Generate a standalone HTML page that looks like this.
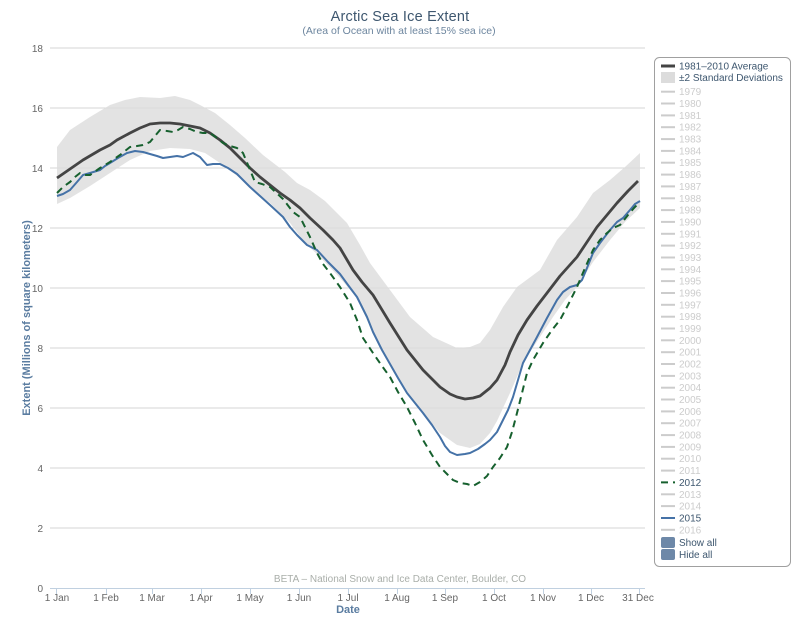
<!DOCTYPE html>
<html><head><meta charset="utf-8">
<style>
html,body{margin:0;padding:0;background:#fff;}
svg{display:block;font-family:"Liberation Sans",Arial,sans-serif;}
</style></head>
<body>
<svg width="800" height="630" viewBox="0 0 800 630" xmlns="http://www.w3.org/2000/svg">
<rect width="800" height="630" fill="#fff"/>
<!-- title -->
<text x="400" y="21" text-anchor="middle" font-size="14.5" letter-spacing="0.2" fill="#3E576F">Arctic Sea Ice Extent</text>
<text x="399" y="34" text-anchor="middle" font-size="10.5" fill="#6D869F">(Area of Ocean with at least 15% sea ice)</text>

<!-- gridlines -->
<g stroke="#d6d6d6" stroke-width="1">
<line x1="50" y1="48" x2="645" y2="48"/>
<line x1="50" y1="108" x2="645" y2="108"/>
<line x1="50" y1="168" x2="645" y2="168"/>
<line x1="50" y1="228" x2="645" y2="228"/>
<line x1="50" y1="288" x2="645" y2="288"/>
<line x1="50" y1="348" x2="645" y2="348"/>
<line x1="50" y1="408" x2="645" y2="408"/>
<line x1="50" y1="468" x2="645" y2="468"/>
<line x1="50" y1="528" x2="645" y2="528"/>
</g>

<!-- y labels -->
<g font-size="10" fill="#666" text-anchor="end">
<text x="43" y="52">18</text>
<text x="43" y="112">16</text>
<text x="43" y="172">14</text>
<text x="43" y="232">12</text>
<text x="43" y="292">10</text>
<text x="43" y="352">8</text>
<text x="43" y="412">6</text>
<text x="43" y="472">4</text>
<text x="43" y="532">2</text>
<text x="43" y="592">0</text>
</g>
<text transform="translate(30,318) rotate(-90)" text-anchor="middle" font-size="11" font-weight="bold" fill="#5a7ca0">Extent (Millions of square kilometers)</text>

<!-- band -->
<polygon fill="#dcdcdc" fill-opacity="0.8" points="
57,147 70,130 90,117 110,105 125,100 140,97 160,98 175,96 190,100 200,105 215,113 230,125 245,138 263,155 285,172 297,183 310,190 325,201 337,213 347,223 360,245 370,263 390,290 410,317 433,337 457,348 470,347 480,343 490,330 503,307 517,287 540,270 557,240 577,217 593,193 610,180 625,167 640,153
640,208 625,222 610,240 593,262 577,287 565,300 553,317 538,340 523,363 510,393 497,421 490,433 480,444 470,448 457,445 440,433 420,410 407,394 390,365 373,333 357,298 340,278 320,257 305,243 290,223 270,203 257,193 240,178 220,163 205,153 190,149 170,148 150,151 130,160 110,173 90,186 70,198 57,204"/>

<!-- axis line and ticks -->
<line x1="50" y1="588.5" x2="645" y2="588.5" stroke="#C0D0E0" stroke-width="1"/>
<g stroke="#C0D0E0" stroke-width="1">
<line x1="56.5" y1="588" x2="56.5" y2="594"/>
<line x1="106.5" y1="588" x2="106.5" y2="594"/>
<line x1="152.5" y1="588" x2="152.5" y2="594"/>
<line x1="201.5" y1="588" x2="201.5" y2="594"/>
<line x1="250.5" y1="588" x2="250.5" y2="594"/>
<line x1="299.5" y1="588" x2="299.5" y2="594"/>
<line x1="348.5" y1="588" x2="348.5" y2="594"/>
<line x1="397.5" y1="588" x2="397.5" y2="594"/>
<line x1="445.5" y1="588" x2="445.5" y2="594"/>
<line x1="494.5" y1="588" x2="494.5" y2="594"/>
<line x1="543.5" y1="588" x2="543.5" y2="594"/>
<line x1="591.5" y1="588" x2="591.5" y2="594"/>
<line x1="639.5" y1="588" x2="639.5" y2="594"/>
</g>
<g font-size="10" fill="#666" text-anchor="middle">
<text x="57" y="601">1 Jan</text>
<text x="106" y="601">1 Feb</text>
<text x="152" y="601">1 Mar</text>
<text x="201" y="601">1 Apr</text>
<text x="250" y="601">1 May</text>
<text x="299" y="601">1 Jun</text>
<text x="348" y="601">1 Jul</text>
<text x="397" y="601">1 Aug</text>
<text x="445" y="601">1 Sep</text>
<text x="494" y="601">1 Oct</text>
<text x="543" y="601">1 Nov</text>
<text x="591" y="601">1 Dec</text>
<text x="638" y="601">31 Dec</text>
</g>
<text x="348" y="613" text-anchor="middle" font-size="11" font-weight="bold" fill="#5a7ca0">Date</text>
<text x="400" y="582" text-anchor="middle" font-size="10" fill="#a9aea9">BETA – National Snow and Ice Data Center, Boulder, CO</text>

<!-- average -->
<polyline fill="none" stroke="#444" stroke-width="2.8" stroke-linejoin="round" points="57,178 70,169 83,160 100,150 110,145 117,140 130,133 140,128 150,124 160,123 170,123 180,124 190,126 200,128 210,133 220,140 230,148 240,158 250,168 260,177 270,185 280,193 290,200 300,208 310,218 323,230 333,240 340,248 353,270 362,282 373,295 390,323 407,350 423,370 440,387 450,394 457,397 465,399 473,398 480,396 490,388 497,380 505,365 510,352 518,335 527,320 537,306 547,293 560,276 577,257 587,242 597,227 607,215 617,203 628,191 638,181"/>

<!-- 2015 -->
<polyline fill="none" stroke="#4572A7" stroke-width="2" stroke-linejoin="round" points="57,196 63,194 70,190 77,182 83,175 90,173 100,170 105,166 110,163 118,158 127,153 135,151 143,152 150,154 157,156 163,158 170,157 177,156 183,157 188,155 193,153 200,157 207,165 213,164 220,164 228,168 237,174 250,187 260,196 270,205 283,217 290,227 297,235 307,245 317,250 328,262 340,274 348,285 357,297 367,317 373,332 382,350 390,364 398,378 407,393 415,403 423,413 432,425 440,437 445,446 450,452 457,455 465,454 470,453 478,449 485,444 490,440 497,432 503,420 508,410 513,397 518,380 523,363 530,350 537,337 547,318 557,300 563,292 570,287 577,285 582,280 587,268 593,253 600,243 610,230 617,222 623,218 630,210 635,204 640,201"/>

<!-- 2012 -->
<polyline fill="none" stroke="#16602e" stroke-width="2" stroke-dasharray="7,5" stroke-linejoin="round" points="57,193 63,187 70,182 75,177 80,173 85,175 90,175 100,168 110,162 120,155 130,147 137,146 143,145 150,142 155,136 160,130 167,131 173,132 178,130 183,127 190,129 197,132 203,133 210,133 217,138 223,143 230,146 237,148 243,153 248,165 255,182 262,184 270,187 283,199 293,212 300,217 310,237 317,253 323,264 330,273 340,287 350,303 357,320 363,338 373,353 382,366 390,377 398,392 407,407 415,423 423,440 432,455 440,467 447,474 453,480 460,483 467,484 473,486 480,482 487,476 493,467 500,458 507,447 512,432 517,413 522,393 527,373 533,360 543,343 552,330 560,320 568,305 577,287 585,268 593,250 600,240 607,233 613,228 620,225 628,215 634,208 640,202"/>

<!-- legend -->
<rect x="654.5" y="57.5" width="136" height="509" rx="5" ry="5" fill="#fff" stroke="#a0a0a0" stroke-width="1"/>
<line x1="661" y1="66" x2="675" y2="66" stroke="#444" stroke-width="3"/>
<text x="679" y="69.5" font-size="10" fill="#3E576F">1981–2010 Average</text>
<rect x="661" y="72" width="14" height="11" fill="#dcdcdc"/>
<text x="679" y="81" font-size="10" fill="#3E576F">±2 Standard Deviations</text>
<g font-size="10" fill="#cccccc">
<text x="679" y="95.2">1979</text>
<text x="679" y="107">1980</text>
<text x="679" y="118.9">1981</text>
<text x="679" y="130.7">1982</text>
<text x="679" y="142.6">1983</text>
<text x="679" y="154.4">1984</text>
<text x="679" y="166.2">1985</text>
<text x="679" y="178.1">1986</text>
<text x="679" y="189.9">1987</text>
<text x="679" y="201.8">1988</text>
<text x="679" y="213.6">1989</text>
<text x="679" y="225.4">1990</text>
<text x="679" y="237.3">1991</text>
<text x="679" y="249.1">1992</text>
<text x="679" y="261">1993</text>
<text x="679" y="272.8">1994</text>
<text x="679" y="284.6">1995</text>
<text x="679" y="296.5">1996</text>
<text x="679" y="308.3">1997</text>
<text x="679" y="320.2">1998</text>
<text x="679" y="332">1999</text>
<text x="679" y="343.8">2000</text>
<text x="679" y="355.7">2001</text>
<text x="679" y="367.5">2002</text>
<text x="679" y="379.4">2003</text>
<text x="679" y="391.2">2004</text>
<text x="679" y="403">2005</text>
<text x="679" y="414.9">2006</text>
<text x="679" y="426.7">2007</text>
<text x="679" y="438.6">2008</text>
<text x="679" y="450.4">2009</text>
<text x="679" y="462.2">2010</text>
<text x="679" y="474.1">2011</text>
<text x="679" y="497.8">2013</text>
<text x="679" y="509.6">2014</text>
<text x="679" y="533.3">2016</text>
</g>
<g stroke="#cccccc" stroke-width="2">
<line x1="661" y1="91.7" x2="675" y2="91.7"/>
<line x1="661" y1="103.5" x2="675" y2="103.5"/>
<line x1="661" y1="115.4" x2="675" y2="115.4"/>
<line x1="661" y1="127.2" x2="675" y2="127.2"/>
<line x1="661" y1="139.1" x2="675" y2="139.1"/>
<line x1="661" y1="150.9" x2="675" y2="150.9"/>
<line x1="661" y1="162.7" x2="675" y2="162.7"/>
<line x1="661" y1="174.6" x2="675" y2="174.6"/>
<line x1="661" y1="186.4" x2="675" y2="186.4"/>
<line x1="661" y1="198.3" x2="675" y2="198.3"/>
<line x1="661" y1="210.1" x2="675" y2="210.1"/>
<line x1="661" y1="221.9" x2="675" y2="221.9"/>
<line x1="661" y1="233.8" x2="675" y2="233.8"/>
<line x1="661" y1="245.6" x2="675" y2="245.6"/>
<line x1="661" y1="257.5" x2="675" y2="257.5"/>
<line x1="661" y1="269.3" x2="675" y2="269.3"/>
<line x1="661" y1="281.1" x2="675" y2="281.1"/>
<line x1="661" y1="293" x2="675" y2="293"/>
<line x1="661" y1="304.8" x2="675" y2="304.8"/>
<line x1="661" y1="316.7" x2="675" y2="316.7"/>
<line x1="661" y1="328.5" x2="675" y2="328.5"/>
<line x1="661" y1="340.3" x2="675" y2="340.3"/>
<line x1="661" y1="352.2" x2="675" y2="352.2"/>
<line x1="661" y1="364" x2="675" y2="364"/>
<line x1="661" y1="375.9" x2="675" y2="375.9"/>
<line x1="661" y1="387.7" x2="675" y2="387.7"/>
<line x1="661" y1="399.5" x2="675" y2="399.5"/>
<line x1="661" y1="411.4" x2="675" y2="411.4"/>
<line x1="661" y1="423.2" x2="675" y2="423.2"/>
<line x1="661" y1="435.1" x2="675" y2="435.1"/>
<line x1="661" y1="446.9" x2="675" y2="446.9"/>
<line x1="661" y1="458.7" x2="675" y2="458.7"/>
<line x1="661" y1="470.6" x2="675" y2="470.6"/>
<line x1="661" y1="494.3" x2="675" y2="494.3"/>
<line x1="661" y1="506.1" x2="675" y2="506.1"/>
<line x1="661" y1="529.8" x2="675" y2="529.8"/>
</g>
<line x1="661" y1="482.4" x2="675" y2="482.4" stroke="#16602e" stroke-width="2" stroke-dasharray="7,5"/>
<text x="679" y="485.9" font-size="10" fill="#3E576F">2012</text>
<line x1="661" y1="518" x2="675" y2="518" stroke="#4572A7" stroke-width="2"/>
<text x="679" y="521.5" font-size="10" fill="#3E576F">2015</text>
<rect x="661" y="537" width="14" height="11" rx="2" fill="#6d88a8"/>
<text x="679" y="546" font-size="10" fill="#3E576F">Show all</text>
<rect x="661" y="549" width="14" height="11" rx="2" fill="#6d88a8"/>
<text x="679" y="558" font-size="10" fill="#3E576F">Hide all</text>
</svg>
</body></html>
